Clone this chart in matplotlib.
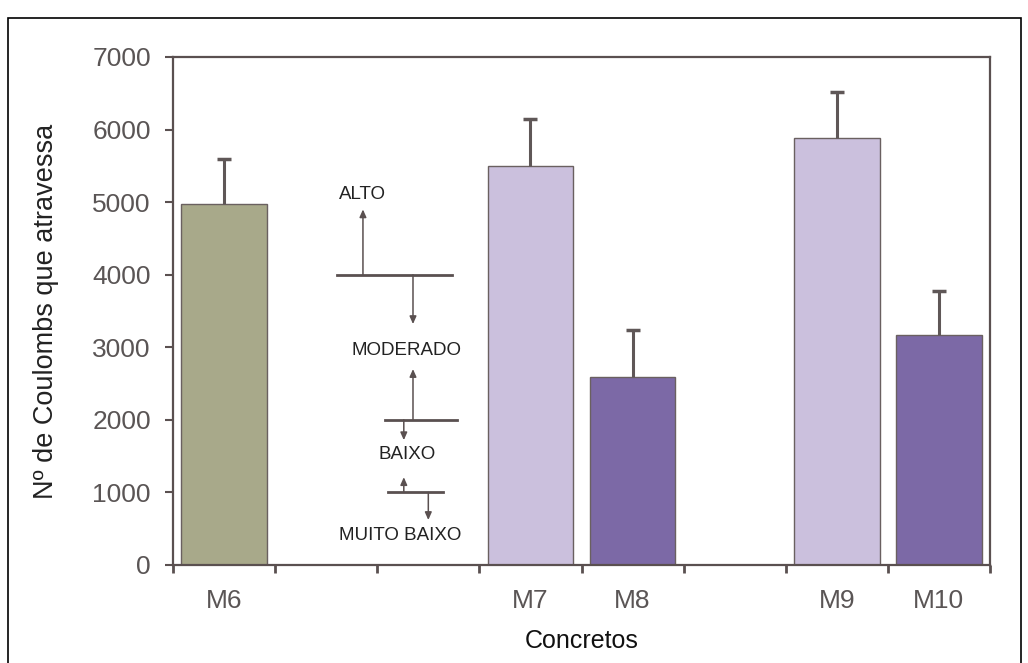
import matplotlib.pyplot as plt
from matplotlib.patches import Rectangle

# Coulomb charge passed per concrete mix
concretos = ['M6', 'M7', 'M8', 'M9', 'M10']
slots = [0, 3, 4, 6, 7]          # category slot of each bar (8 slots on the axis)
coulombs = [4980, 5500, 2590, 5880, 3170]
desvio = [620, 650, 650, 640, 600]
cores = ['#a8a98a', '#cbc0dd', '#7c69a6', '#cbc0dd', '#7c69a6']

# permeability classes (ASTM C1202 thresholds)
limites = [4000, 2000, 1000]

plt.rcParams['font.family'] = ['Liberation Sans', 'DejaVu Sans']

fig = plt.figure(figsize=(10.28, 6.63), dpi=100)
ax = fig.add_axes([173 / 1028, 98 / 663, 817 / 1028, 508 / 663])

centros = [s + 0.5 for s in slots]
ax.bar(centros, coulombs, width=0.84, color=cores, edgecolor='#6a6060', linewidth=1.0, zorder=2)
_, caps, _ = ax.errorbar(centros, coulombs, yerr=[[0] * len(desvio), desvio], fmt='none',
                         ecolor='#5f5757', elinewidth=2.2, capsize=5, capthick=2.5, zorder=3)
caps[0].set_visible(False)   # only the upper cap

ax.set_xlim(0, 8)
ax.set_ylim(0, 7000)
ax.set_yticks(range(0, 7001, 1000))
ax.set_xticks(range(0, 9))
ax.set_xticklabels([])
ax.set_xticks(centros, minor=True)
ax.set_xticklabels(concretos, minor=True)
ax.tick_params(axis='x', which='minor', length=0, pad=17, labelsize=19, labelcolor='#5a5555')
ax.tick_params(axis='x', which='major', length=6, width=2, color='#5a5050', direction='out')
ax.tick_params(axis='y', length=6, width=1.5, color='#5a5050', labelsize=19,
               labelcolor='#5a5555', pad=10)
for sp in ax.spines.values():
    sp.set_color('#5a5050')
    sp.set_linewidth(1.6)

ax.set_ylabel('Nº de Coulombs que atravessa', fontsize=19.5, color='#222222', labelpad=24)
ax.set_xlabel('Concretos', fontsize=18, color='#111111', labelpad=12)

# classification diagram between M6 and M7
lc = '#5a5050'
seta = dict(arrowstyle='-|>,head_length=0.45,head_width=0.2', color=lc, lw=1.1,
            shrinkA=0, shrinkB=0)
ax.plot([1.61, 2.73], [limites[0]] * 2, color=lc, lw=2)
ax.plot([2.08, 2.78], [limites[1]] * 2, color=lc, lw=2)
ax.plot([2.11, 2.64], [limites[2]] * 2, color=lc, lw=2)

ax.annotate('', xy=(1.86, 4900), xytext=(1.86, limites[0]), arrowprops=seta)
ax.annotate('', xy=(2.35, 3320), xytext=(2.35, limites[0]), arrowprops=seta)
ax.annotate('', xy=(2.35, 2700), xytext=(2.35, limites[1]), arrowprops=seta)
ax.annotate('', xy=(2.26, 1720), xytext=(2.26, limites[1]), arrowprops=seta)
ax.annotate('', xy=(2.26, 1210), xytext=(2.26, limites[2]), arrowprops=seta)
ax.annotate('', xy=(2.50, 620), xytext=(2.50, limites[2]), arrowprops=seta)

txt = dict(ha='center', va='center', fontsize=13.5, color='#222222')
ax.text(1.86, 5110, 'ALTO', **txt)
ax.text(2.29, 2950, 'MODERADO', **txt)
ax.text(2.29, 1520, 'BAIXO', **txt)
ax.text(2.22, 410, 'MUITO BAIXO', **txt)

# frame round the whole figure
fig.patches.append(Rectangle((8 / 1028, -0.01), 1013 / 1028, 652 / 663,
                             transform=fig.transFigure, fill=False,
                             edgecolor='black', linewidth=1.2))

fig.savefig('out.png', dpi=100)
